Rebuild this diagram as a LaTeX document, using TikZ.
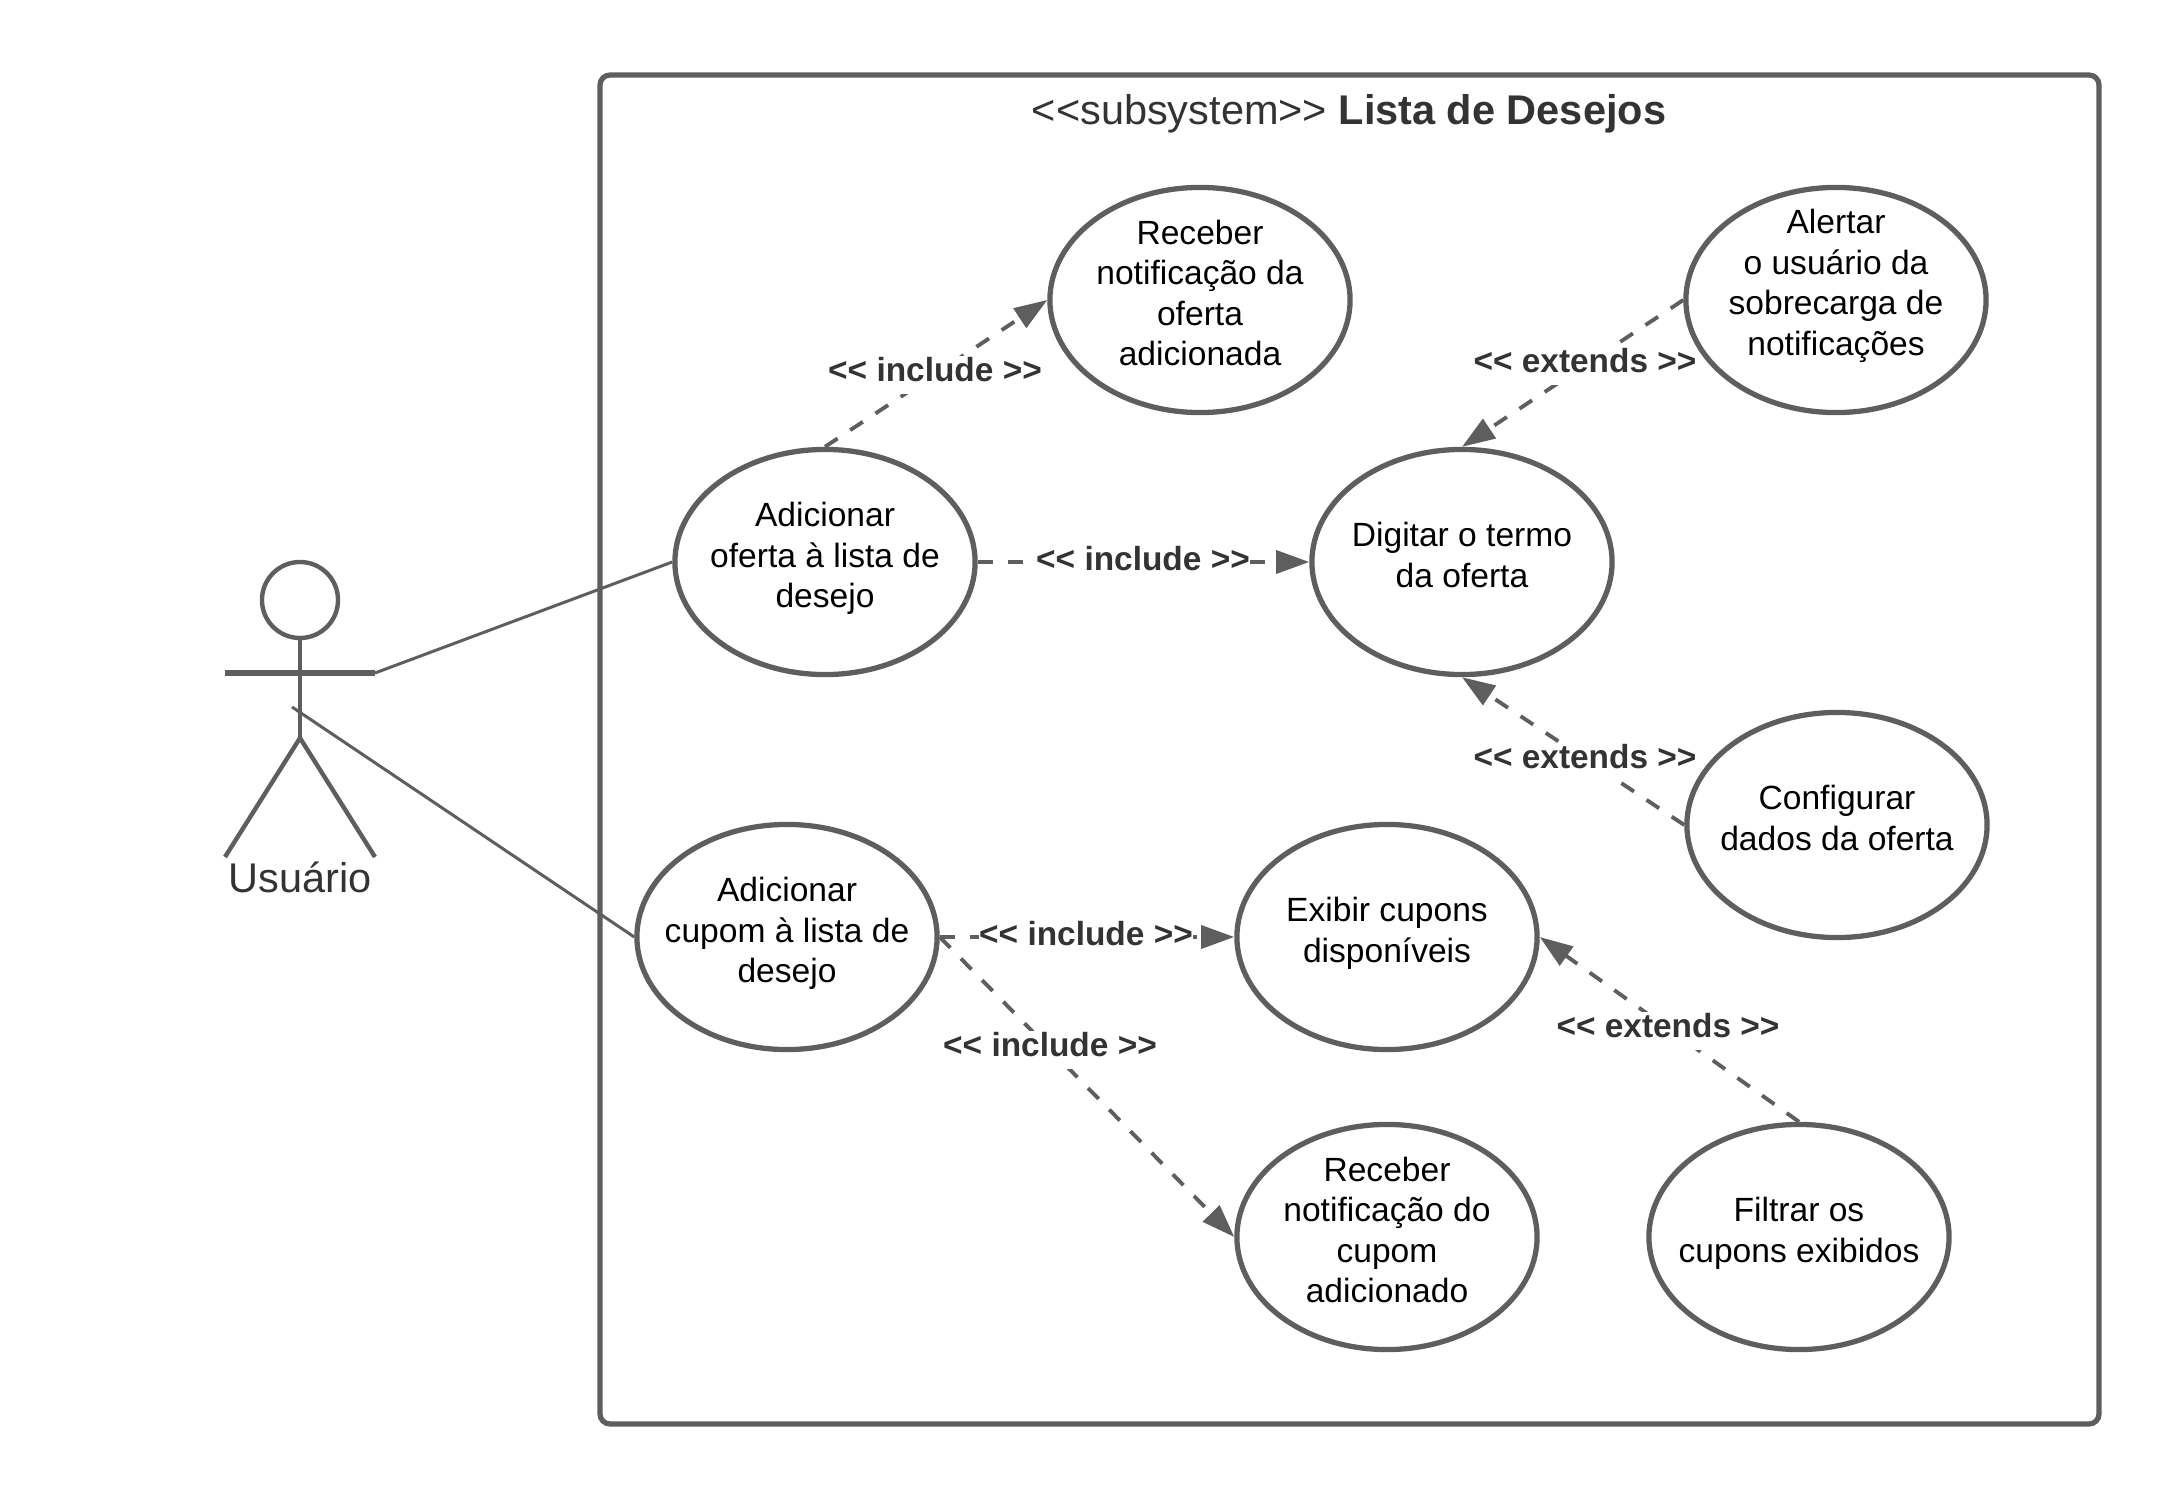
\documentclass[tikz,border=0pt]{standalone}
\usepackage{fontspec}
\setmainfont{Liberation Sans}
\usetikzlibrary{shapes.geometric,arrows.meta}
\definecolor{lc}{HTML}{5E5E5E}
\definecolor{tc}{HTML}{333333}
\tikzset{
  usecase/.style={ellipse,draw=lc,line width=1.5pt,fill=white,minimum width=3.0cm,minimum height=2.25cm,inner sep=-1.5cm,align=center,text=black,text depth=4pt,font=\fontsize{9.55}{11.5}\selectfont},
  frameline/.style={draw=lc,line width=1.5pt,rounded corners=0.1cm},
  actorline/.style={draw=lc,line width=1.25pt},
  assoc/.style={draw=lc,line width=0.85pt},
  depend/.style={draw=lc,line width=1.1pt,dash pattern=on 4.3pt off 4.3pt,-{Triangle[length=9.4pt,width=6.5pt]}},
  stereo/.style={fill=white,inner xsep=0pt,inner ysep=0.5pt,text depth=3pt,text=tc,font=\fontsize{9.5}{11.5}\selectfont\bfseries},
}
\begin{document}
\begin{tikzpicture}[x=0.01cm,y=-0.01cm]
\useasboundingbox (0,0) rectangle (2175,1500);
% system frame
\draw[frameline] (600,75) rectangle (2099,1424);
\node[text=tc,font=\fontsize{11.8}{14}\selectfont] (title) at (1349,114) {<{}<subsystem>{}> \textbf{Lista de Desejos}};
% actor
\node[circle,actorline,line width=1.25pt,minimum size=0.76cm,inner sep=0pt] (head) at (300,600) {};
\coordinate (hip) at (300,738);
\coordinate (armL) at (225,673);
\coordinate (armR) at (375,673);
\coordinate (legL) at (225,857);
\coordinate (legR) at (375,857);
\coordinate (body) at (292,707);
\draw[actorline] (head.south) -- (hip);
\draw[draw=lc,line width=1.5pt] (armL) -- (armR);
\draw[actorline] (legL) -- (hip) -- (legR);
\node[text=tc,font=\fontsize{11.8}{14}\selectfont] (actor) at (300,877) {Usuário};
% use cases
\node[usecase] (recOferta) at (1200,300) {Receber\\notificação da\\oferta\\adicionada};
\node[usecase,text depth=10pt] (alertar) at (1836,300) {Alertar\\o usuário da\\sobrecarga de\\notificações};
\node[usecase] (addOferta) at (825,562) {Adicionar\\oferta à lista de\\desejo};
\node[usecase] (digitar) at (1462,562) {Digitar o termo\\da oferta};
\node[usecase] (config) at (1837,825) {Configurar\\dados da oferta};
\node[usecase] (addCupom) at (787,937) {Adicionar\\cupom à lista de\\desejo};
\node[usecase] (exibir) at (1387,937) {Exibir cupons\\disponíveis};
\node[usecase] (recCupom) at (1387,1237) {Receber\\notificação do\\cupom\\adicionado};
\node[usecase] (filtrar) at (1799,1237) {Filtrar os\\cupons exibidos};
% associations
\draw[assoc] (armR) -- (addOferta.west);
\draw[assoc] (body) -- (addCupom.west);
% dependencies
\draw[depend] (addOferta.north) -- (recOferta.west);
\draw[depend] (addOferta.east) -- (digitar.west);
\draw[depend] (alertar.west) -- (digitar.north);
\draw[depend] (config.west) -- (digitar.south);
\draw[depend] (addCupom.east) -- (exibir.west);
\draw[depend] (addCupom.east) -- (recCupom.west);
\draw[depend] (filtrar.north) -- (exibir.east);
% labels
\node[stereo] (l1) at (935,375) {<{}< include >{}>};
\node[stereo] (l2) at (1143,564) {<{}< include >{}>};
\node[stereo] (l3) at (1585,366) {<{}< extends >{}>};
\node[stereo] (l4) at (1585,762) {<{}< extends >{}>};
\node[stereo] (l5) at (1086,939) {<{}< include >{}>};
\node[stereo] (l6) at (1050,1050) {<{}< include >{}>};
\node[stereo] (l7) at (1668,1031) {<{}< extends >{}>};
\end{tikzpicture}
\end{document}
